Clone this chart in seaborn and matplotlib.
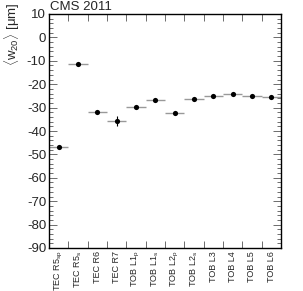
import matplotlib
matplotlib.use("Agg")
import matplotlib.pyplot as plt
import seaborn as sns
import numpy as np
import pandas as pd
from matplotlib.ticker import MultipleLocator, FixedLocator

categories = ["TEC R5$_{sp}$", "TEC R5$_{s}$", "TEC R6", "TEC R7", "TOB L1$_{p}$", "TOB L1$_{s}$",
              "TOB L2$_{p}$", "TOB L2$_{s}$", "TOB L3", "TOB L4", "TOB L5", "TOB L6"]
values = [-46.8, -11.2, -31.7, -35.8, -29.8, -26.8, -32.5, -26.3, -24.9, -24.3, -24.9, -25.6]
errors = [0.6, 0.9, 0.6, 2.0, 0.6, 0.6, 0.6, 0.6, 0.5, 0.5, 0.5, 0.5]

sns.set_theme(style="ticks")
plt.rcParams['font.family'] = ['Liberation Sans', 'DejaVu Sans']
plt.rcParams['mathtext.fontset'] = 'custom'
plt.rcParams['mathtext.rm'] = 'Liberation Sans'
plt.rcParams['mathtext.it'] = 'Liberation Sans'
plt.rcParams['axes.unicode_minus'] = False

df = pd.DataFrame({"cat": categories, "x": np.arange(len(categories)) + 0.5,
                   "val": values, "err": errors})

fig = plt.figure(figsize=(3.03, 2.91), dpi=100)
ax = fig.add_axes([49/303, 1-248/291, 232/303, 234/291])

ax.errorbar(df["x"], df["val"], xerr=0.5, fmt='none', ecolor='#999999', elinewidth=1.0, capsize=0)
ax.errorbar(df["x"], df["val"], yerr=df["err"], fmt='none', ecolor='black', elinewidth=0.8, capsize=0)
sns.scatterplot(data=df, x="x", y="val", ax=ax, color='black', s=14, marker='o', edgecolor='black', linewidth=0, zorder=5)

ax.set_xlim(0, len(categories))
ax.set_ylim(-90, 10)
ax.set_xlabel("")
ax.set_ylabel("")

ax.xaxis.set_major_locator(FixedLocator(np.arange(1, len(categories))))
ax.xaxis.set_minor_locator(FixedLocator(df["x"].values))
ax.set_xticklabels([])
ax.set_xticklabels(categories, minor=True, rotation=90, fontsize=6.5)
ax.tick_params(axis='x', which='major', direction='in', length=5, width=0.6, top=True, bottom=True, color='#555555')
ax.tick_params(axis='x', which='minor', length=0, pad=2)

ax.yaxis.set_major_locator(MultipleLocator(10))
ax.yaxis.set_minor_locator(MultipleLocator(2))
ax.tick_params(axis='y', which='major', direction='in', length=6, width=0.6, left=True, right=True, labelsize=9.5, pad=2, color='#555555')
ax.tick_params(axis='y', which='minor', direction='in', length=3, width=0.6, left=True, right=True, color='#555555')

for s in ax.spines.values():
    s.set_visible(True)
    s.set_linewidth(1.0)
    s.set_color('black')

fig.text(50/303, 1-0.5/291, "CMS 2011", ha='left', va='top', fontsize=9.5)
fig.text(12.5/303, 1-3/291, r"$\langle w_{20}\rangle$ [μm]", rotation=90, ha='center', va='top', fontsize=9.5)

fig.savefig("out.png", dpi=100)
